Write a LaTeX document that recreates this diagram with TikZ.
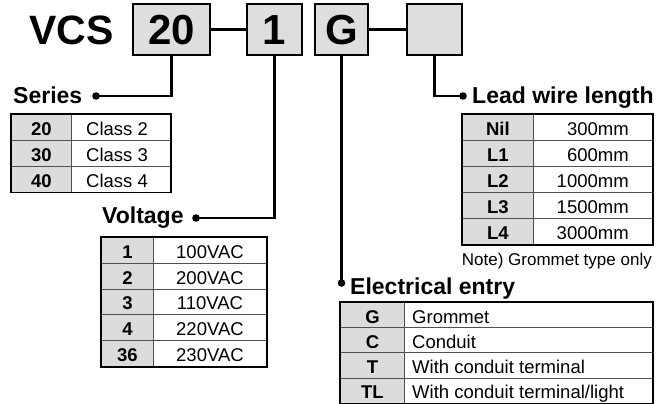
\documentclass[tikz,border=0pt]{standalone}
\usepackage{fontspec}
\setmainfont{Liberation Sans}
\definecolor{boxgray}{HTML}{DEDEDE}
\definecolor{keygray}{HTML}{DCDCDC}
\definecolor{gridgray}{HTML}{505050}
\begin{document}
\begin{tikzpicture}[x=1pt,y=-1pt,
  codebox/.style={draw=black, line width=2pt, fill=boxgray, minimum height=51pt, inner sep=0pt,
    font=\fontsize{42}{46}\selectfont\bfseries, text height=31pt, text depth=0pt},
  link/.style={line width=2.2pt, draw=black},
  heading/.style={anchor=base west, inner sep=0pt, font=\fontsize{23}{26}\selectfont\bfseries},
  keycell/.style={draw=gridgray, line width=0.9pt, fill=keygray, inner sep=0pt, anchor=north west,
    text height=16pt, text depth=0pt, font=\fontsize{18.5}{20}\selectfont\bfseries},
  valcell/.style={draw=gridgray, line width=0.9pt, fill=white, inner sep=0pt, anchor=north west},
  valtext/.style={inner sep=0pt, text height=16pt, text depth=0pt, font=\fontsize{18.5}{20}\selectfont},
  frame/.style={draw=black, line width=1.2pt},
  topline/.style={draw=black, line width=2.2pt},
]
\useasboundingbox (0,0) rectangle (667,404);

% ---- model code ----
\node[anchor=base west, inner sep=0pt, font=\fontsize{41}{46}\selectfont\bfseries] (vcs) at (29,45) {VCS};
\node[codebox, minimum width=77pt] (b20) at (171.5,29.5) {20};
\node[codebox, minimum width=55pt] (b1) at (274.5,29.5) {1};
\node[codebox, minimum width=53pt] (bG) at (341.5,29.5) {G};
\node[codebox, minimum width=55pt] (bX) at (434.5,29.5) {};
\draw[link] (b20) -- (b1);
\draw[link] (bG) -- (bX);

% ---- dots and leaders ----
\coordinate (dS) at (96,96);
\coordinate (dV) at (196,218);
\coordinate (dL) at (463,96);
\coordinate (dE) at (341.5,283);
\draw[link] (b20.south) |- (dS);
\draw[link] (b1.south) |- (dV);
\draw[link] (bX.south) |- (dL);
\draw[link] (bG.south) -- (dE);
\foreach \d in {dS,dV,dL,dE} \fill (\d) circle (3.8pt);

% ---- headings ----
\node[heading] (hS) at (13,103.5) {Series};
\node[heading] (hV) at (102,223) {Voltage};
\node[heading] (hL) at (472,103) {Lead wire length};
\node[heading] (hE) at (350,294) {Electrical entry};

% ---- Series table ----
\foreach \k/\v [count=\i from 0] in {20/Class 2,30/Class 3,40/Class 4}{
  \node[keycell, minimum width=60pt, minimum height=25.9pt] (sk\i) at (11,{114+25.9*\i}) {\k};
  \node[valcell, minimum width=99pt, minimum height=25.9pt] (sv\i) at (71,{114+25.9*\i}) {};
  \node[valtext, anchor=west] (st\i) at ([xshift=15pt]sv\i.west) {\v};
}
\draw[frame] (sk0.north west) rectangle (sv2.south east);
\draw[topline] (sk0.north west) -- (sv0.north east);

% ---- Voltage table ----
\foreach \k/\v [count=\i from 0] in {1/100VAC,2/200VAC,3/110VAC,4/220VAC,36/230VAC}{
  \node[keycell, minimum width=52pt, minimum height=25.8pt] (vk\i) at (101,{237+25.8*\i}) {\k};
  \node[valcell, minimum width=113pt, minimum height=25.8pt] (vv\i) at (153,{237+25.8*\i}) {};
  \node[valtext] (vt\i) at (vv\i.center) {\v};
}
\draw[frame] (vk0.north west) rectangle (vv4.south east);
\draw[topline] (vk0.north west) -- (vv0.north east);

% ---- Lead wire table ----
\foreach \k/\v [count=\i from 0] in {Nil/300mm,L1/600mm,L2/1000mm,L3/1500mm,L4/3000mm}{
  \node[keycell, minimum width=71pt, minimum height=26pt] (lk\i) at (462,{114+26*\i}) {\k};
  \node[valcell, minimum width=119pt, minimum height=26pt] (lv\i) at (533,{114+26*\i}) {};
  \node[valtext, anchor=east] (lt\i) at ([xshift=-24pt]lv\i.east) {\v};
}
\draw[frame] (lk0.north west) rectangle (lv4.south east);
\draw[topline] (lk0.north west) -- (lv0.north east);
\node[anchor=base east, inner sep=0pt, font=\fontsize{17}{19}\selectfont] (note) at (652,265) {Note) Grommet type only};

% ---- Electrical entry table ----
\foreach \k/\v [count=\i from 0] in {G/Grommet,C/Conduit,T/With conduit terminal,TL/{With conduit terminal/light}}{
  \node[keycell, minimum width=64pt, minimum height=25.2pt] (ek\i) at (340,{302+25.2*\i}) {\k};
  \node[valcell, minimum width=248pt, minimum height=25.2pt] (ev\i) at (404,{302+25.2*\i}) {};
  \node[valtext, anchor=west] (et\i) at ([xshift=8pt]ev\i.west) {\v};
}
\draw[frame] (ek0.north west) rectangle (ev3.south east);
\draw[topline] (ek0.north west) -- (ev0.north east);
\end{tikzpicture}
\end{document}
